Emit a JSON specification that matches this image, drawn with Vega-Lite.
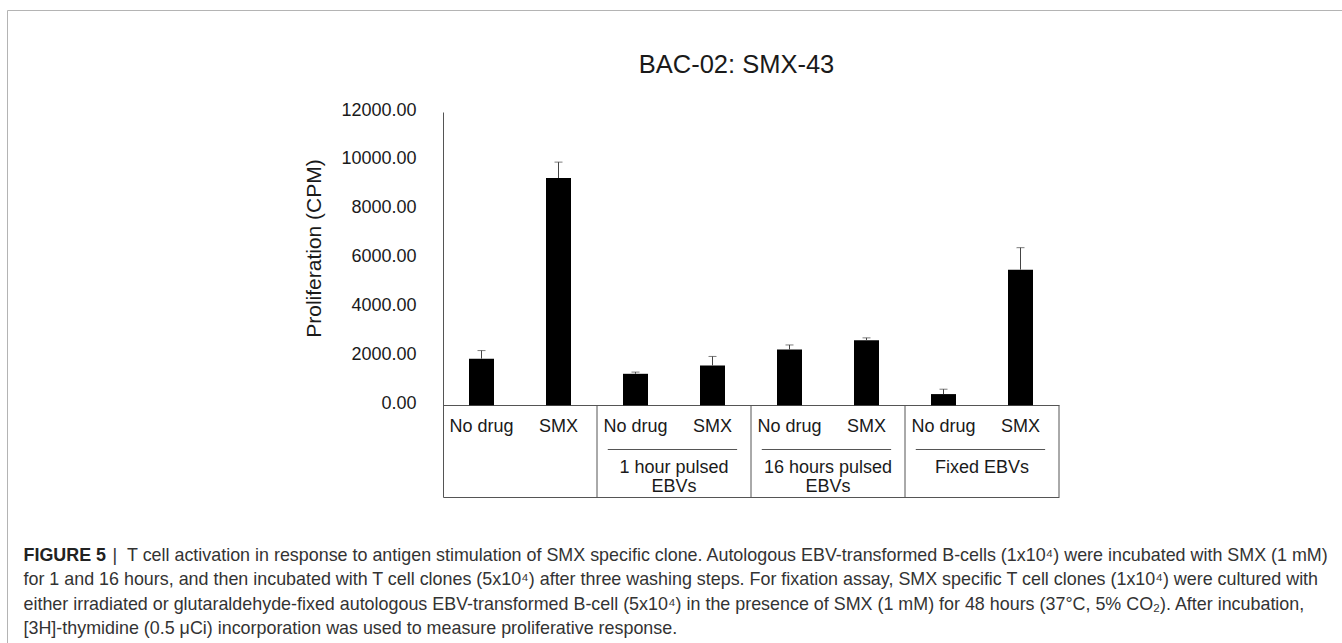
{
  "$schema": "https://vega.github.io/schema/vega-lite/v6.json",
  "width": 1345,
  "height": 640,
  "autosize": "none",
  "padding": {"left": 7, "top": 10, "right": -10, "bottom": -7},
  "background": "white",
  "config": {
    "font": "Liberation Sans",
    "view": {"stroke": "#b4b4b4", "strokeWidth": 1}
  },
  "title": {
    "text": "BAC-02: SMX-43",
    "fontSize": 25.5,
    "fontWeight": "normal",
    "color": "#1a1a1a",
    "anchor": "middle",
    "frame": "group",
    "dx": 57,
    "offset": -93,
    "baseline": "bottom"
  },
  "datasets": {
    "bars": [
      {"cond": "No drug (control)", "treatment": "No drug", "group": "Control", "cpm": 1910, "upper": 2240},
      {"cond": "SMX (control)", "treatment": "SMX", "group": "Control", "cpm": 9300, "upper": 9950},
      {"cond": "No drug (1 h)", "treatment": "No drug", "group": "1 hour pulsed EBVs", "cpm": 1290, "upper": 1360},
      {"cond": "SMX (1 h)", "treatment": "SMX", "group": "1 hour pulsed EBVs", "cpm": 1630, "upper": 2000},
      {"cond": "No drug (16 h)", "treatment": "No drug", "group": "16 hours pulsed EBVs", "cpm": 2280, "upper": 2470},
      {"cond": "SMX (16 h)", "treatment": "SMX", "group": "16 hours pulsed EBVs", "cpm": 2660, "upper": 2760},
      {"cond": "No drug (fixed)", "treatment": "No drug", "group": "Fixed EBVs", "cpm": 460, "upper": 660},
      {"cond": "SMX (fixed)", "treatment": "SMX", "group": "Fixed EBVs", "cpm": 5550, "upper": 6450}
    ],
    "groups": [
      {"group": "Control", "first": "No drug (control)", "second": "SMX (control)", "label": ""},
      {"group": "1 hour pulsed EBVs", "first": "No drug (1 h)", "second": "SMX (1 h)", "label": "1 hour pulsed\nEBVs"},
      {"group": "16 hours pulsed EBVs", "first": "No drug (16 h)", "second": "SMX (16 h)", "label": "16 hours pulsed\nEBVs"},
      {"group": "Fixed EBVs", "first": "No drug (fixed)", "second": "SMX (fixed)", "label": "Fixed EBVs"}
    ]
  },
  "resolve": {"axis": {"x": "independent", "y": "independent"}},
  "layer": [
    {
      "data": {"name": "bars"},
      "mark": {"type": "bar", "width": 25, "color": "#000000"},
      "encoding": {
        "x": {
          "field": "cond",
          "type": "nominal",
          "scale": {
            "domain": ["No drug (control)", "SMX (control)", "No drug (1 h)", "SMX (1 h)", "No drug (16 h)", "SMX (16 h)", "No drug (fixed)", "SMX (fixed)"],
            "range": [436, 1052],
            "paddingInner": 0,
            "paddingOuter": 0
          },
          "axis": {
            "orient": "bottom",
            "offset": -245,
            "domainColor": "#555555",
            "domainWidth": 1,
            "ticks": false,
            "tickSize": 0,
            "labelPadding": 12,
            "labelFontSize": 18,
            "labelColor": "#1a1a1a",
            "labelAngle": 0,
            "labelExpr": "split(datum.label, ' (')[0]",
            "title": [
              "for 1 and 16 hours, and then incubated with T cell clones (5x10⁴) after three washing steps. For fixation assay, SMX specific T cell clones (1x10⁴) were cultured with",
              "either irradiated or glutaraldehyde-fixed autologous EBV-transformed B-cell (5x10⁴) in the presence of SMX (1 mM) for 48 hours (37°C, 5% CO₂). After incubation,",
              "[3H]-thymidine (0.5 μCi) incorporation was used to measure proliferative response."
            ],
            "titleFontSize": 17.9,
            "titleFontWeight": "normal",
            "titleColor": "#333333",
            "titleAlign": "left",
            "titleX": 16,
            "titleY": 165.5,
            "titleBaseline": "top",
            "titleLineHeight": 24.7
          }
        },
        "y": {
          "field": "cpm",
          "type": "quantitative",
          "scale": {"domain": [-3750, 12000], "range": [487, 102], "nice": false, "zero": false},
          "axis": {
            "values": [0, 2000, 4000, 6000, 8000, 10000, 12000],
            "format": ".2f",
            "grid": false,
            "ticks": false,
            "tickSize": 0,
            "labelPadding": 27,
            "labelOffset": -2,
            "labelFontSize": 18,
            "labelColor": "#1a1a1a",
            "domainColor": "#555555",
            "offset": -436,
            "title": "Proliferation (CPM)",
            "titleFontSize": 21,
            "titleFontWeight": "normal",
            "titleColor": "#1a1a1a",
            "titleX": -129,
            "titleY": 238,
            "titleAngle": -90,
            "titleAlign": "center",
            "titleBaseline": "middle"
          }
        }
      }
    },
    {
      "data": {"name": "bars"},
      "mark": {"type": "rule", "color": "#444444", "strokeWidth": 1},
      "encoding": {
        "x": {"field": "cond", "type": "nominal", "axis": null},
        "y": {
          "field": "cpm",
          "type": "quantitative",
          "axis": {
            "orient": "right",
            "domain": false,
            "labels": false,
            "ticks": false,
            "tickSize": 0,
            "grid": false,
            "title": "|\u00a0\u00a0T cell activation in response to antigen stimulation of SMX specific clone. Autologous EBV-transformed B-cells (1x10⁴) were incubated with SMX (1 mM)",
            "titleFontSize": 17.9,
            "titleFontWeight": "normal",
            "titleColor": "#333333",
            "titleAngle": 0,
            "titleAlign": "left",
            "titleBaseline": "top",
            "titleX": -1240,
            "titleY": 536
          }
        },
        "y2": {"field": "upper"}
      }
    },
    {
      "data": {"name": "bars"},
      "mark": {"type": "tick", "color": "#444444", "thickness": 1, "size": 8},
      "encoding": {
        "x": {"field": "cond", "type": "nominal", "axis": null},
        "y": {"field": "upper", "type": "quantitative", "axis": null}
      }
    },
    {
      "data": {"name": "groups"},
      "mark": {"type": "rule", "color": "#555555", "strokeWidth": 1},
      "encoding": {
        "x": {"field": "second", "type": "nominal", "bandPosition": 1, "axis": null},
        "y": {"datum": 0, "axis": null},
        "y2": {"datum": -3750}
      }
    },
    {
      "data": {"name": "groups"},
      "transform": [{"filter": "datum.label != ''"}],
      "mark": {"type": "rule", "color": "#555555", "strokeWidth": 1},
      "encoding": {
        "x": {"field": "first", "type": "nominal", "bandPosition": 0.14, "axis": null},
        "x2": {"field": "second", "bandPosition": 0.82},
        "y": {"datum": -1807, "axis": null}
      }
    },
    {
      "data": {"name": "groups"},
      "transform": [{"filter": "datum.label != ''"}],
      "mark": {"type": "text", "fontSize": 18, "lineBreak": "\n", "lineHeight": 19, "baseline": "top", "align": "center", "color": "#1a1a1a"},
      "encoding": {
        "x": {
          "field": "second",
          "type": "nominal",
          "bandPosition": 0,
          "axis": {
            "orient": "top",
            "offset": -487,
            "domainColor": "#555555",
            "labels": false,
            "ticks": false,
            "tickSize": 0,
            "grid": false,
            "title": "FIGURE 5",
            "titleFontSize": 17.9,
            "titleFontWeight": "bold",
            "titleColor": "#222222",
            "titleAlign": "left",
            "titleX": 16,
            "titleY": 49,
            "titleBaseline": "top"
          }
        },
        "y": {"datum": -2190, "axis": null},
        "text": {"field": "label"}
      }
    }
  ]
}
